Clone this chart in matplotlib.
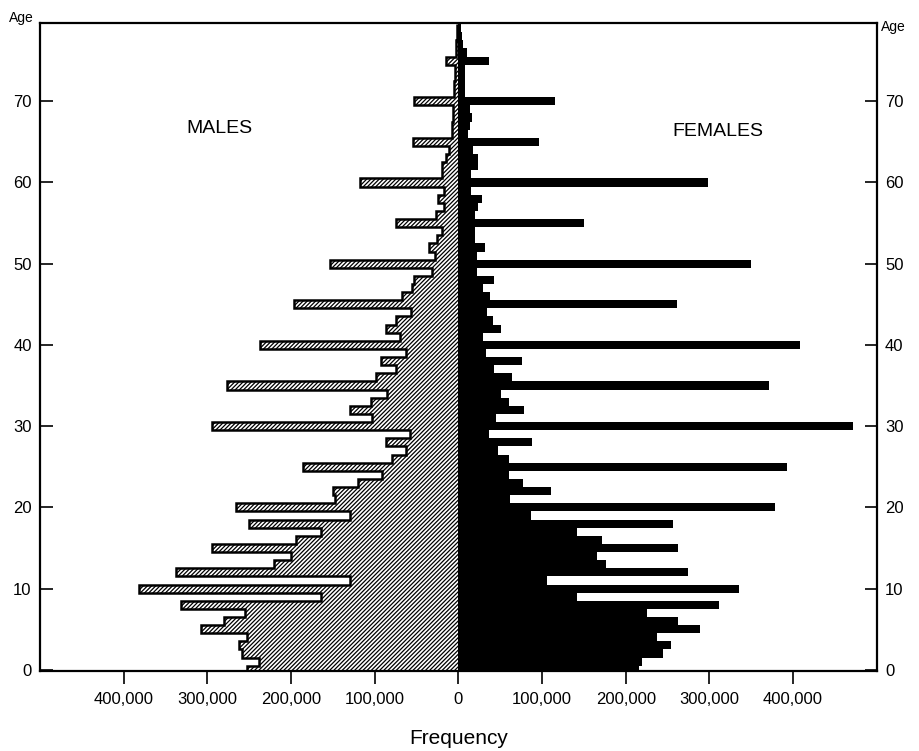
import numpy as np
import matplotlib.pyplot as plt
from matplotlib.ticker import FuncFormatter

plt.rcParams['font.family'] = ['Liberation Sans', 'DejaVu Sans']
plt.rcParams['hatch.linewidth'] = 0.9

# single years of age, counts in thousands
ages = np.arange(80)
males_k = [252, 238, 258, 262, 252, 308, 280, 255, 331, 164,
           382, 130, 337, 220, 200, 294, 194, 164, 250, 130,
           266, 148, 150, 120, 91, 186, 79, 62, 86, 58,
           295, 103, 130, 104, 85, 276, 98, 74, 92, 62,
           237, 70, 86, 74, 56, 196, 67, 55, 53, 31,
           153, 28, 35, 25, 19, 75, 27, 17, 24, 17,
           117, 20, 19, 15, 11, 54, 7, 7, 6, 6,
           53, 5, 5, 4, 4, 15, 3, 3, 2, 2]
females_k = [216, 220, 245, 254, 237, 289, 262, 225, 311, 142,
             335, 106, 274, 177, 166, 262, 172, 142, 256, 87,
             379, 62, 111, 77, 61, 393, 60, 47, 88, 37,
             472, 45, 78, 61, 51, 371, 64, 43, 76, 33,
             408, 30, 51, 41, 34, 261, 38, 29, 43, 22,
             350, 22, 32, 20, 20, 150, 20, 24, 28, 15,
             298, 15, 23, 23, 18, 96, 12, 14, 16, 14,
             116, 8, 8, 8, 8, 37, 10, 6, 4, 3]
x_ticks = [-400000, -300000, -200000, -100000, 0, 100000, 200000, 300000, 400000]
age_ticks = [0, 10, 20, 30, 40, 50, 60, 70]

males = np.array(males_k) * 1000
females = np.array(females_k) * 1000

fig = plt.figure(figsize=(9.19, 7.51), dpi=100)
ax = fig.add_axes([0.0435, 0.1065, 0.9105, 0.8625])

# males: densely hatched bars plus a heavy outline of the profile
ax.barh(ages, -males, height=1.0, color='white', edgecolor='black',
        hatch='////////', linewidth=0)
ax.stairs(-males, np.arange(len(ages) + 1) - 0.5, orientation='horizontal',
          baseline=None, color='black', linewidth=1.8)

# females: solid black bars
ax.barh(ages, females, height=1.0, color='black', linewidth=0)

ax.set_xlim(-500000, 500000)
ax.set_ylim(-0.15, 79.6)
ax.set_xticks(x_ticks)
ax.xaxis.set_major_formatter(FuncFormatter(lambda v, p: f'{abs(int(v)):,}'))
ax.set_yticks(age_ticks)
ax.tick_params(axis='x', direction='out', length=9, width=1.2, labelsize=12, pad=6)
ax.tick_params(axis='y', direction='in', length=9, width=1.2, labelsize=12,
               right=True, labelright=True, pad=6)
for s in ax.spines.values():
    s.set_linewidth(1.6)

ax.set_xlabel('Frequency', fontsize=15, labelpad=16)
ax.text(-0.022, 1.008, 'Age', transform=ax.transAxes, ha='center', va='center', fontsize=10)
ax.text(1.02, 0.994, 'Age', transform=ax.transAxes, ha='center', va='center', fontsize=10)

ax.text(-285000, 66.6, 'MALES', ha='center', va='center', fontsize=14)
ax.text(310000, 66.3, 'FEMALES', ha='center', va='center', fontsize=14)

plt.savefig('out.png', dpi=100)
